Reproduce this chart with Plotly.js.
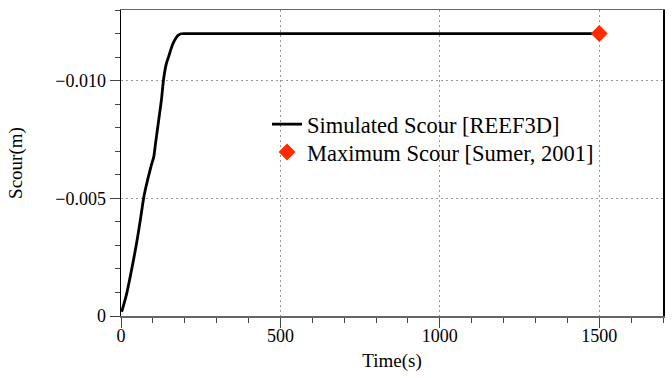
<!DOCTYPE html>
<html>
<head>
<meta charset="utf-8">
<script src="https://cdn.plot.ly/plotly-3.0.1.min.js"></script>
<style>html,body{margin:0;padding:0;background:#fff;}#chart{width:672px;height:378px;}</style>
</head>
<body>
<div id="chart"></div>
<script>
// Simulated scour time series (REEF3D)
const simTime = [2, 10, 18, 26, 35, 45, 54, 62, 70, 76, 82, 88, 94, 99, 103, 108, 114, 120, 127, 133, 137, 141, 145, 149, 157, 164, 172, 180, 188, 196, 205, 1500];
const simScour = [-0.00018, -0.00055, -0.00096, -0.00148, -0.00209, -0.0028, -0.00351, -0.0042, -0.00493, -0.00535, -0.0057, -0.00603, -0.00635, -0.00658, -0.00677, -0.0073, -0.0079, -0.0085, -0.0092, -0.0100, -0.01037, -0.01065, -0.01085, -0.0110, -0.01135, -0.0116, -0.0118, -0.01193, -0.01199, -0.0120, -0.0120, -0.0120];
// Maximum scour (Sumer, 2001)
const maxTime = [1500];
const maxScour = [-0.0120];
// Tick labels
const xTickVals = [0, 500, 1000, 1500];
const xTickText = ["0", "500", "1000", "1500"];
const yTickVals = [0, -0.005, -0.010];
const yTickText = ["0", "\u22120.005", "\u22120.010"];

const font = "Liberation Serif";

const traces = [
  {x: simTime, y: simScour, type: "scatter", mode: "lines", name: "Simulated Scour [REEF3D]",
   line: {color: "#000000", width: 2.8, shape: "spline", smoothing: 0.5}, legend: "legend"},
  {x: maxTime, y: maxScour, type: "scatter", mode: "markers", name: "Maximum Scour [Sumer, 2001]",
   marker: {symbol: "diamond", size: 13, color: "#ff2a00"}, legend: "legend2"}
];

const legendFont = {family: font, size: 22.5, color: "#000"};
const layout = {
  width: 672, height: 378,
  margin: {l: 121, r: 9, t: 10, b: 62},
  paper_bgcolor: "#ffffff", plot_bgcolor: "#ffffff",
  font: {family: font, size: 18, color: "#000"},
  showlegend: true,
  legend: {x: 0.2694, y: 0.696, xanchor: "left", yanchor: "top", bgcolor: "rgba(0,0,0,0)",
           font: legendFont, itemwidth: 30},
  legend2: {x: 0.2694, y: 0.605, xanchor: "left", yanchor: "top", bgcolor: "rgba(0,0,0,0)",
           font: legendFont, itemwidth: 30},
  xaxis: {
    range: [0, 1700], tickvals: xTickVals, ticktext: xTickText,
    ticks: "outside", ticklen: 10, tickwidth: 1, tickcolor: "#444",
    showline: true, linecolor: "#666", linewidth: 1.5, mirror: true,
    showgrid: true, gridcolor: "#999", griddash: "2px,3px", gridwidth: 1,
    zeroline: false, ticklabelstandoff: -7,
    minor: {dtick: 100, tick0: 0, ticks: "outside", ticklen: 5, tickcolor: "#444", showgrid: false},
    tickfont: {family: font, size: 18, color: "#000"},
    title: {text: "Time(s)", font: {family: font, size: 19, color: "#000"}, standoff: 8}
  },
  yaxis: {
    range: [0, -0.013], tickvals: yTickVals, ticktext: yTickText,
    ticks: "outside", ticklen: 10, tickwidth: 1, tickcolor: "#444",
    showline: true, linecolor: "#000", linewidth: 1.5, mirror: true,
    showgrid: true, gridcolor: "#999", griddash: "2px,3px", gridwidth: 1,
    zeroline: false,
    minor: {dtick: 0.001, tick0: 0, ticks: "outside", ticklen: 5, tickcolor: "#444", showgrid: false},
    tickfont: {family: font, size: 18, color: "#000"},
    title: {text: "Scour(m)", font: {family: font, size: 19, color: "#000"}, standoff: 27}
  }
};

Plotly.newPlot("chart", traces, layout, {staticPlot: true, displayModeBar: false});
</script>
</body>
</html>
